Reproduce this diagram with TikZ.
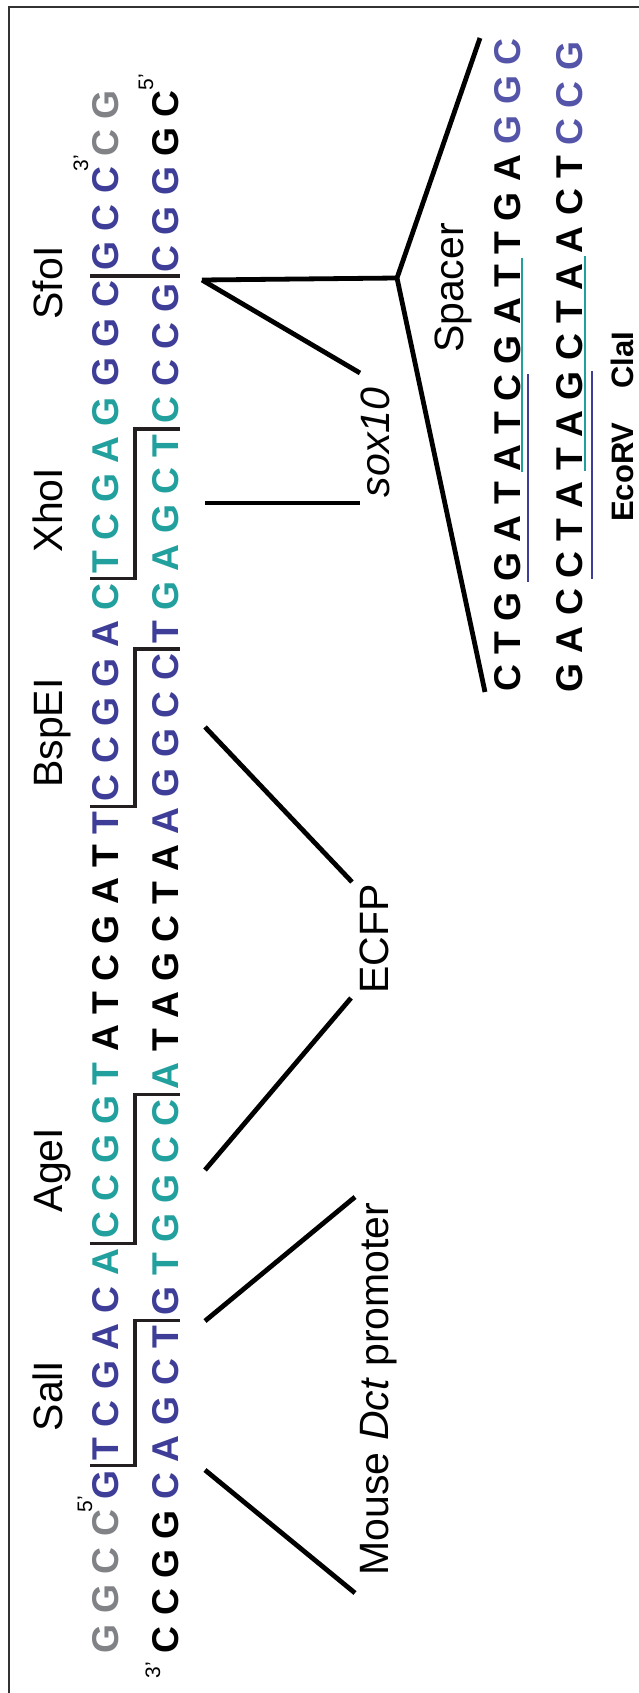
\documentclass[tikz,border=0pt]{standalone}
\usepackage{fontspec}
\setmainfont{Liberation Sans}
\usetikzlibrary{calc}

\definecolor{seqgrey}{RGB}{128,130,134}
\definecolor{seqblue}{RGB}{62,62,152}
\definecolor{seqteal}{RGB}{34,160,158}
\definecolor{spblue}{RGB}{84,84,168}
\definecolor{cutink}{RGB}{35,31,32}
\definecolor{frameink}{RGB}{50,50,50}

\newcommand\seqfont{\fontsize{37.3}{40}\selectfont\bfseries}
\newcommand\labfont{\fontsize{41}{45}\selectfont}
\newcommand\primefont{\fontsize{21}{23}\selectfont}
\newcommand\sitefont{\fontsize{31}{34}\selectfont\bfseries}
% width of an inter-letter space in the sequence font
\def\gapw{10.37pt}

% one strand: prefix, start of the first letter's baseline, letter/colour list
\newcommand\dnastrand[3]{%
  \foreach \ltr/\col [count=\i] in {#3}{%
    \ifnum\i=1
      \coordinate (#1-at) at (#2);
    \else
      \pgfmathtruncatemacro\prevn{\i-1}%
      \coordinate (#1-at) at ([yshift=\gapw]#1\prevn.base east);
    \fi
    \node[nt, text=\col] (#1\i) at (#1-at) {\ltr};
  }%
}

\begin{document}
\begin{tikzpicture}[x=1pt, y=-1pt,
  base/.style={inner sep=0pt, outer sep=0pt, rotate=90},
  nt/.style={base, font=\seqfont, anchor=base west},
  lab/.style={base, font=\labfont, anchor=base},
  primelab/.style={base, font=\primefont, anchor=base east},
  site/.style={base, font=\sitefont, anchor=base},
  cutline/.style={draw=cutink, line width=3.5pt},
  callout/.style={draw=black, line width=4.8pt},
  uline/.style={line width=1.6pt}]

\useasboundingbox (0,0) rectangle (638,1693);

% frame
\draw[frameink, line width=2pt] (9,1720) -- (9,7) -- (680,7);

% ---------------- main double strand ----------------
\dnastrand{t}{118,1653}{G/seqgrey, G/seqgrey, C/seqgrey, C/seqgrey,
  G/seqblue, T/seqblue, C/seqblue, G/seqblue, A/seqblue, C/seqblue,
  A/seqteal, C/seqteal, C/seqteal, G/seqteal, G/seqteal, T/seqteal,
  A/black, T/black, C/black, G/black, A/black, T/black,
  T/seqblue, C/seqblue, C/seqblue, G/seqblue, G/seqblue, A/seqblue,
  C/seqteal, T/seqteal, C/seqteal, G/seqteal, A/seqteal, G/seqteal,
  G/seqblue, G/seqblue, C/seqblue, G/seqblue, C/seqblue, C/seqblue,
  C/seqgrey, G/seqgrey}

\dnastrand{b}{178,1653}{C/black, C/black, G/black, G/black,
  C/seqblue, A/seqblue, G/seqblue, C/seqblue, T/seqblue, G/seqblue,
  T/seqteal, G/seqteal, G/seqteal, C/seqteal, C/seqteal, A/seqteal,
  T/black, A/black, G/black, C/black, T/black, A/black,
  A/seqblue, G/seqblue, G/seqblue, C/seqblue, C/seqblue, T/seqblue,
  G/seqteal, A/seqteal, G/seqteal, C/seqteal, T/seqteal, C/seqteal,
  C/seqblue, C/seqblue, G/seqblue, C/seqblue, G/seqblue, G/seqblue,
  G/black, C/black}

% strand ends
\node[primelab] (e5t) at (92,1496) {5’};
\node[primelab] (e3t) at (88,155) {3’};
\node[primelab] (e5b) at (153,74) {5’};
\node[primelab] (e3b) at (160,1662) {3’};

% cut sites
\coordinate (xa) at (90,0);
\coordinate (xm) at (135,0);
\coordinate (xb) at (180,0);
\foreach \nm/\ta/\tb/\ba/\bb in {sal/5/6/9/10, age/11/12/15/16,
    bsp/23/24/27/28, xho/29/30/33/34}{
  \coordinate (\nm-t) at ($(t\ta.base east)!0.5!(t\tb.base west)$);
  \coordinate (\nm-b) at ($(b\ba.base east)!0.5!(b\bb.base west)$);
  \draw[cutline] (\nm-t -| xa) -- (\nm-t -| xm) -- (\nm-b -| xm) -- (\nm-b -| xb);
}
\coordinate (sfo-t) at ($(t37.base east)!0.5!(t38.base west)$);
\draw[cutline] (sfo-t -| xa) -- (sfo-t -| xb);

% enzyme names
\node[lab] (nsal) at (62,1396) {SalI};
\node[lab] (nage) at (62,1170) {AgeI};
\node[lab] (nbsp) at (62,733) {BspEI};
\node[lab] (nxho) at (62,510) {XhoI};
\node[lab] (nsfo) at (62,283) {SfoI};

% ---------------- element labels ----------------
\node[lab] (prom) at (388,1389) {Mouse \textit{Dct} promoter};
\node[lab] (ecfp) at (388,939) {ECFP};
\node[lab, anchor=base west] (sox) at (389,497) {\textit{sox10}};
\node[lab] (spacer) at (463,288) {Spacer};

\coordinate (p1) at (205,1470);
\coordinate (p2) at (355,1593);
\coordinate (p3) at (205,1321);
\coordinate (p4) at (355,1197);
\draw[callout] (p1) -- (p2);
\draw[callout] (p3) -- (p4);

\coordinate (f1) at (205,1170);
\coordinate (f2) at (351,998);
\coordinate (f3) at (205,727);
\coordinate (f4) at (352,882);
\draw[callout] (f1) -- (f2);
\draw[callout] (f3) -- (f4);

\coordinate (s1) at (205,503);
\coordinate (s2) at (360,503);
\coordinate (s3) at (202,280);
\coordinate (s4) at (360,373);
\draw[callout] (s1) -- (s2);
\draw[callout] (s3) -- (s4);

\coordinate (k2) at (397,278);
\coordinate (k3) at (480,38);
\coordinate (k4) at (485,692);
\draw[callout] (s3) -- (k2);
\draw[callout, line join=miter] (k3) -- (k2) -- (k4);

% ---------------- spacer double strand ----------------
\dnastrand{u}{520,691.5}{C/black, T/black, G/black, G/black, A/black,
  T/black, A/black, T/black, C/black, G/black, A/black, T/black,
  T/black, G/black, A/black, G/spblue, G/spblue, C/spblue}
\dnastrand{v}{582,692.5}{G/black, A/black, C/black, C/black, T/black,
  A/black, T/black, A/black, G/black, C/black, T/black, A/black,
  A/black, C/black, T/black, C/spblue, C/spblue, G/spblue}

% EcoRV and ClaI sites
\draw[uline, seqblue] ([xshift=8pt]u4.base west) -- ([xshift=8pt]u9.base east);
\draw[uline, seqteal] ([xshift=2pt]u7.base west) -- ([xshift=2pt,yshift=7pt]u12.base east);
\draw[uline, seqteal] ([xshift=3pt]v7.base west) -- ([xshift=3pt,yshift=7pt]v12.base east);
\draw[uline, seqblue] ([xshift=10pt]v4.base west) -- ([xshift=10pt]v9.base east);

\node[site] (ecorv) at (633,472) {EcoRV};
\node[site] (cla) at (633,360) {ClaI};
\end{tikzpicture}
\end{document}
